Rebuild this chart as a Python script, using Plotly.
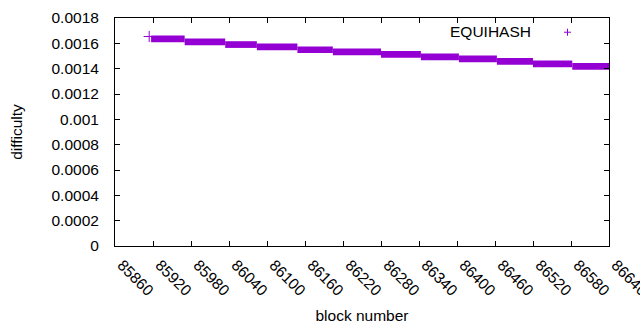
import plotly.graph_objects as go

# ---- data ----
seg_start = [85917, 85970, 86034, 86084, 86148, 86204, 86280, 86343, 86403, 86463, 86520, 86582]
seg_end = [85970, 86034, 86084, 86148, 86204, 86280, 86343, 86403, 86463, 86520, 86582, 86640]
seg_level = [0.0016354, 0.0016117, 0.0015903, 0.0015721, 0.0015492, 0.0015326,
             0.0015136, 0.0014930, 0.0014780, 0.0014582, 0.0014376, 0.0014187]
first_block = [85914]
first_level = [0.001654]

x_ticks = [85860, 85920, 85980, 86040, 86100, 86160, 86220, 86280, 86340,
           86400, 86460, 86520, 86580, 86640]
x_tick_labels = [str(v) for v in x_ticks]
y_ticks = [0, 0.0002, 0.0004, 0.0006, 0.0008, 0.001, 0.0012, 0.0014, 0.0016, 0.0018]
y_tick_labels = ["0", "0.0002", "0.0004", "0.0006", "0.0008", "0.001",
                 "0.0012", "0.0014", "0.0016", "0.0018"]
series_name = "EQUIHASH"

COLOR = "#9400D3"
FONT = "Liberation Sans, Arial, sans-serif"

xs, ys = [], []
for s, e, v in zip(seg_start, seg_end, seg_level):
    xs += [s, e, None]
    ys += [v, v, None]

fig = go.Figure()
fig.add_trace(go.Scatter(x=xs, y=ys, mode="lines", name=series_name,
                         line=dict(color=COLOR, width=6.7), showlegend=False,
                         hoverinfo="skip"))
fig.add_trace(go.Scatter(x=first_block, y=first_level, mode="markers", name=series_name,
                         marker=dict(symbol="cross-thin", size=8,
                                     line=dict(color=COLOR, width=1)),
                         showlegend=False))

axis_common = dict(showline=True, linecolor="black", linewidth=1, mirror="allticks",
                   ticks="inside", ticklen=5, tickcolor="black", showgrid=False,
                   zeroline=False, automargin=False,
                   tickfont=dict(family=FONT, size=15.5, color="black"))

fig.update_xaxes(range=[85860, 86640], tickmode="array", tickvals=x_ticks,
                 ticktext=x_tick_labels, tickangle=45, ticklabeloverflow="allow",
                 ticklabelshift=7, ticklabelstandoff=3,
                 title=dict(text="block number", font=dict(family=FONT, size=15.5, color="black"),
                            standoff=11),
                 **axis_common)
fig.update_yaxes(range=[0, 0.0018], tickmode="array", tickvals=y_ticks,
                 ticktext=y_tick_labels, ticklabelstandoff=12,
                 title=dict(text="difficulty", font=dict(family=FONT, size=15.5, color="black"),
                            standoff=25),
                 **axis_common)

# legend drawn gnuplot-style: text to the left of the sample symbol
fig.add_annotation(xref="paper", yref="paper", x=(533 - 115) / 494, y=(246 - 32) / 227.5,
                   text=series_name, showarrow=False, xanchor="right", yanchor="middle",
                   font=dict(family=FONT, size=15.5, color="black"))
lx = (567.5 - 115) / 494
ly = (246 - 32.7) / 227.5
dx = 3.5 / 494
dy = 3.5 / 227.5
fig.add_shape(type="line", xref="paper", yref="paper", x0=lx - dx, x1=lx + dx, y0=ly, y1=ly,
              line=dict(color=COLOR, width=1))
fig.add_shape(type="line", xref="paper", yref="paper", x0=lx, x1=lx, y0=ly - dy, y1=ly + dy,
              line=dict(color=COLOR, width=1))

fig.update_layout(width=640, height=330, margin=dict(l=115, r=31, t=18, b=84),
                  paper_bgcolor="white", plot_bgcolor="white",
                  font=dict(family=FONT, size=15.5, color="black"), showlegend=False)

fig.write_html("out.html", config={"displayModeBar": False},
               post_script="document.body.style.margin='0';document.body.style.overflow='hidden';")
